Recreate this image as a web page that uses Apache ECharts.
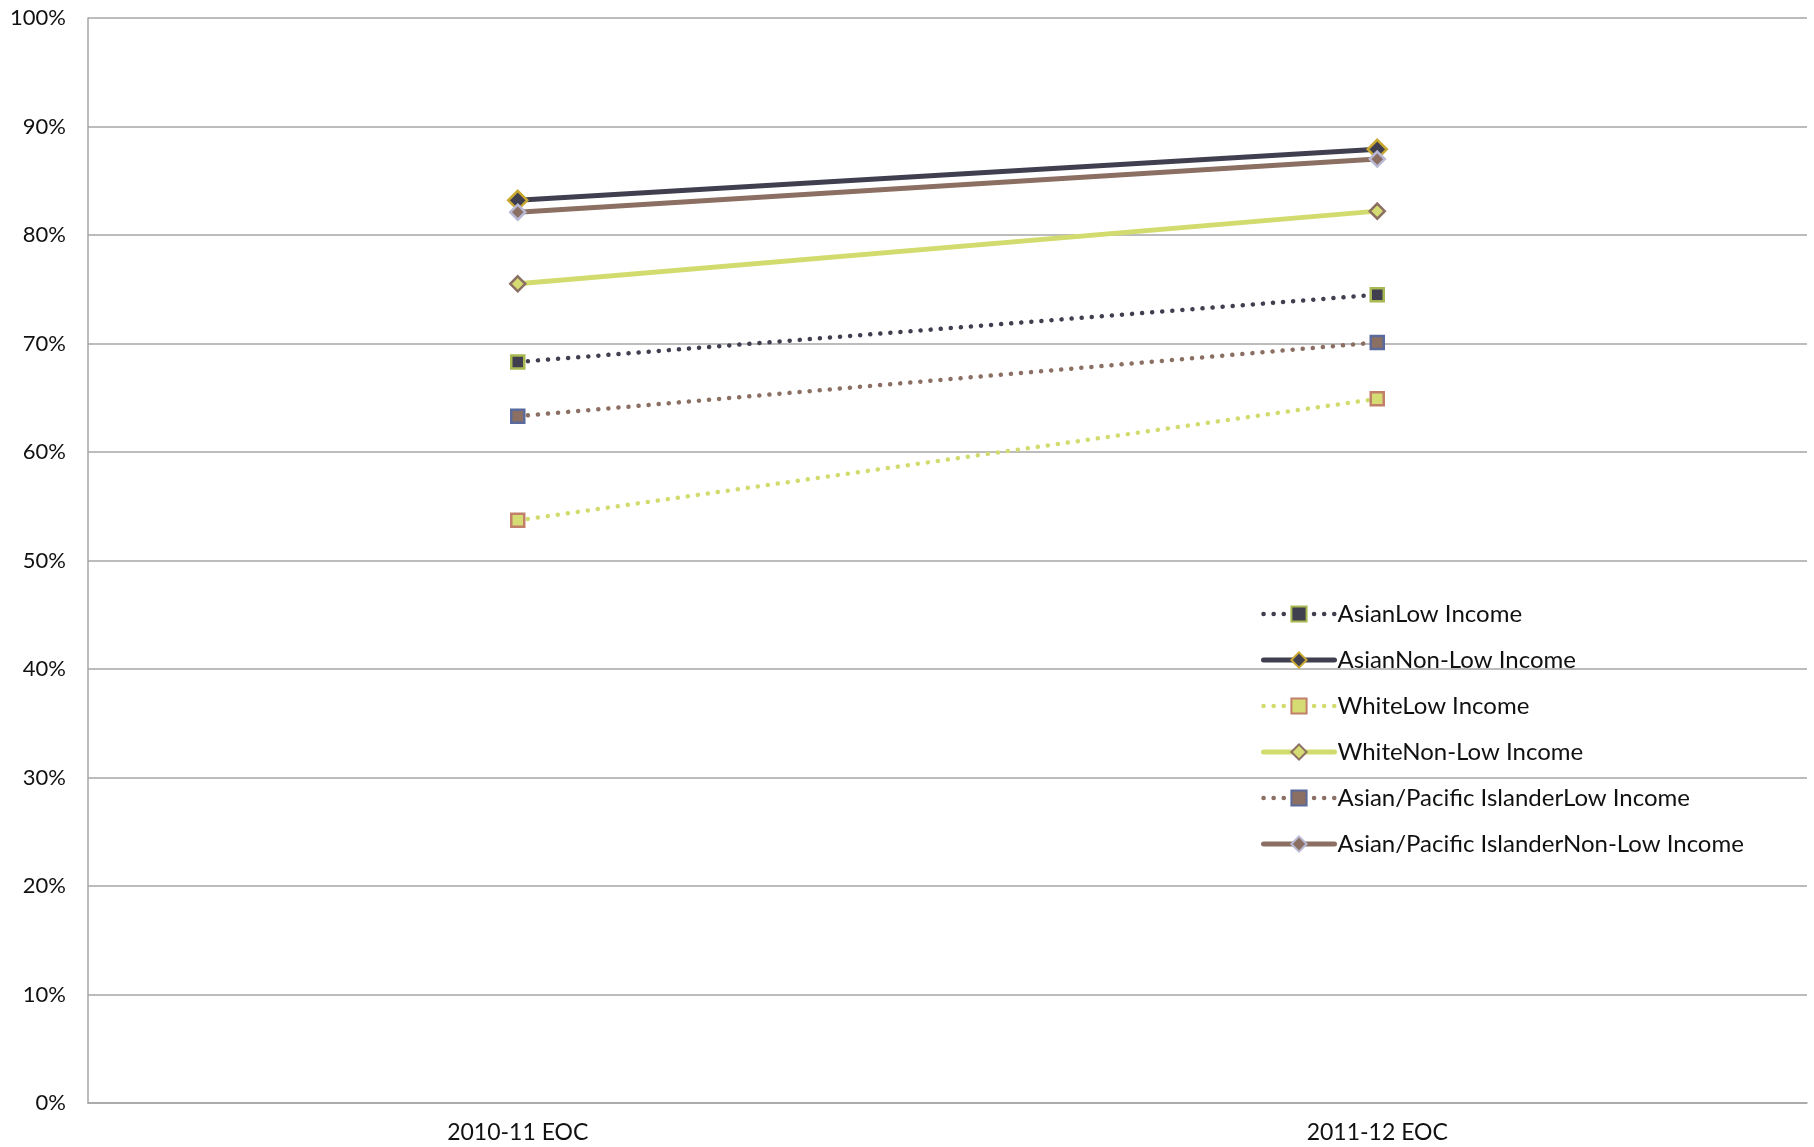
<!DOCTYPE html>
<html>
<head>
<meta charset="utf-8">
<script src="https://cdn.jsdelivr.net/npm/echarts@6/dist/echarts.min.js"></script>
<style>
html,body{margin:0;padding:0;background:#fff;}
#chart{width:1814px;height:1147px;}
</style>
</head>
<body>
<div id="chart"></div>
<script>
const categories = ['2010-11 EOC', '2011-12 EOC'];
const seriesNames = [
  'AsianLow Income',
  'AsianNon-Low Income',
  'WhiteLow Income',
  'WhiteNon-Low Income',
  'Asian/Pacific IslanderLow Income',
  'Asian/Pacific IslanderNon-Low Income'
];
const asianLow = [68.3, 74.5];
const asianNonLow = [83.2, 87.9];
const whiteLow = [53.7, 64.9];
const whiteNonLow = [75.5, 82.2];
const apiLow = [63.3, 70.1];
const apiNonLow = [82.1, 87.0];
const yTicks = [0, 10, 20, 30, 40, 50, 60, 70, 80, 90, 100];

const FONT = 'Lato';
const dotted = [0.1, 10];

function mk(name, data, color, dashed, symbol, size, fill, border) {
  return {
    name: name,
    type: 'line',
    data: data,
    symbol: symbol,
    symbolSize: size,
    showAllSymbol: true,
    lineStyle: {
      color: color,
      width: dashed ? 4.5 : 5,
      type: dashed ? dotted : 'solid',
      cap: 'round'
    },
    itemStyle: { color: fill, borderColor: border, borderWidth: 2.5 },
    emphasis: { disabled: true },
    animation: false
  };
}

const chart = echarts.init(document.getElementById('chart'), null, { renderer: 'canvas' });
chart.setOption({
  backgroundColor: '#ffffff',
  animation: false,
  grid: { left: 88, right: 7, top: 18, bottom: 44, containLabel: false },
  legend: {
    orient: 'vertical',
    left: 1256,
    top: 597,
    itemWidth: 71,
    itemHeight: 19,
    itemGap: 22,
    data: seriesNames,
    lineStyle: { width: 'inherit', cap: 'round' },
    textStyle: { fontFamily: FONT, fontSize: 24, color: '#111', padding: [0, 0, 0, -2] }
  },
  xAxis: {
    type: 'category',
    data: categories,
    boundaryGap: true,
    axisLine: { lineStyle: { color: '#a6a6a6', width: 1.5 } },
    axisTick: { show: false },
    axisLabel: { fontFamily: FONT, fontSize: 23, color: '#111', margin: 18 },
    splitLine: { show: false }
  },
  yAxis: {
    type: 'value',
    min: 0, max: 100, interval: 10,
    axisLine: { show: true, lineStyle: { color: '#a6a6a6', width: 1.5 } },
    axisTick: { show: false },
    axisLabel: {
      fontFamily: FONT, fontSize: 22, color: '#111', margin: 22,
      formatter: function (v) { return yTicks.indexOf(v) >= 0 ? v + '%' : ''; }
    },
    splitLine: { show: true, lineStyle: { color: '#a6a6a6', width: 1.5 } }
  },
  series: [
    mk(seriesNames[0], asianLow, '#3f3f4f', true, 'rect', 13, '#3f3f4f', '#a9b850'),
    mk(seriesNames[1], asianNonLow, '#3f3f4f', false, 'diamond', 19, '#3f3f4f', '#c9a832'),
    mk(seriesNames[2], whiteLow, '#d2dc6e', true, 'rect', 13, '#d5dc74', '#c2806a'),
    mk(seriesNames[3], whiteNonLow, '#d2dc6e', false, 'diamond', 15, '#d5dc74', '#8b6f62'),
    mk(seriesNames[4], apiLow, '#8b6f62', true, 'rect', 13, '#8b6f62', '#5b6a9c'),
    mk(seriesNames[5], apiNonLow, '#8b6f62', false, 'diamond', 15, '#8b6f62', '#b8b8d4')
  ]
});
</script>
</body>
</html>
